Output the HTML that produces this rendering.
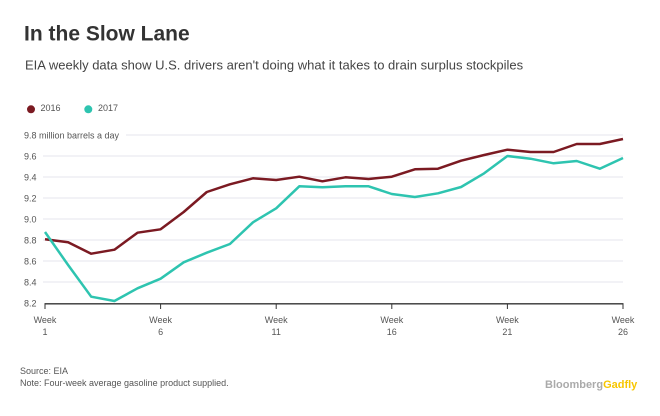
<!DOCTYPE html>
<html>
<head>
<meta charset="utf-8">
<style>
  html, body { margin:0; padding:0; background:#ffffff; }
  body { width:660px; height:416px; overflow:hidden; }
  svg { display:block; font-family:"Liberation Sans", Arial, sans-serif; }
</style>
</head>
<body>
<svg width="660" height="416" viewBox="0 0 660 416" xmlns="http://www.w3.org/2000/svg">
  <rect x="0" y="0" width="660" height="416" fill="#ffffff"/>

  <!-- Title -->
  <text x="24" y="40.5" font-size="21" font-weight="bold" fill="#333333">In the Slow Lane</text>
  <text x="25" y="69.5" font-size="13" fill="#444444">EIA weekly data show U.S. drivers aren't doing what it takes to drain surplus stockpiles</text>

  <!-- Legend -->
  <circle cx="31" cy="109.3" r="4" fill="#7b1a22"/>
  <text x="40.5" y="110.8" font-size="9" fill="#555555">2016</text>
  <circle cx="88.3" cy="109.3" r="4" fill="#2ec4b0"/>
  <text x="98" y="110.8" font-size="9" fill="#555555">2017</text>

  <!-- Gridlines -->
  <g stroke="#e6e6ec" stroke-width="1">
    <line x1="126" y1="135" x2="623" y2="135"/>
    <line x1="43" y1="156" x2="623" y2="156"/>
    <line x1="43" y1="177" x2="623" y2="177"/>
    <line x1="43" y1="198" x2="623" y2="198"/>
    <line x1="43" y1="219" x2="623" y2="219"/>
    <line x1="43" y1="240" x2="623" y2="240"/>
    <line x1="43" y1="261" x2="623" y2="261"/>
    <line x1="43" y1="282" x2="623" y2="282"/>
  </g>

  <!-- Y labels -->
  <g font-size="9" fill="#555555">
    <text x="24" y="138.3">9.8 million barrels a day</text>
    <text x="24" y="159.5">9.6</text>
    <text x="24" y="180.5">9.4</text>
    <text x="24" y="201.5">9.2</text>
    <text x="24" y="222.5">9.0</text>
    <text x="24" y="243.5">8.8</text>
    <text x="24" y="264.5">8.6</text>
    <text x="24" y="285.5">8.4</text>
    <text x="24" y="306.5">8.2</text>
  </g>

  <!-- Series 2016 -->
  <polyline fill="none" stroke="#7b1a22" stroke-width="2.5" stroke-linejoin="round" stroke-linecap="butt"
    points="45,239.3 68.1,242.3 91.2,253.7 114.4,249.7 137.5,232.7 160.6,229.3 183.7,212 206.8,192 229.9,184.3 253,178.3 276.2,180 299.3,176.7 322.4,181.3 345.5,177.3 368.6,179 391.8,176.7 414.9,169.3 438,168.7 461.1,160.7 484.2,155 507.4,149.7 530.5,152 553.6,152 576.7,144 599.8,144 623,139"/>

  <!-- Series 2017 -->
  <polyline fill="none" stroke="#2ec4b0" stroke-width="2.5" stroke-linejoin="round" stroke-linecap="butt"
    points="45,232 68.1,265 91.2,296.7 114.4,301 137.5,288.3 160.6,278.7 183.7,262.3 206.8,252.7 229.9,244 253,222.3 276.2,208.3 299.3,186.3 322.4,187.3 345.5,186.3 368.6,186.3 391.8,194 414.9,197 438,193.3 461.1,187 484.2,173.3 507.4,156 530.5,158.7 553.6,163.3 576.7,161 599.8,168.7 623,158"/>

  <!-- X axis -->
  <line x1="44.5" y1="303.8" x2="623.5" y2="303.8" stroke="#333333" stroke-width="1.3"/>
  <g stroke="#333333" stroke-width="1">
    <line x1="45" y1="303.5" x2="45" y2="309"/>
    <line x1="160.6" y1="303.5" x2="160.6" y2="309"/>
    <line x1="276.2" y1="303.5" x2="276.2" y2="309"/>
    <line x1="391.8" y1="303.5" x2="391.8" y2="309"/>
    <line x1="507.4" y1="303.5" x2="507.4" y2="309"/>
    <line x1="623" y1="303.5" x2="623" y2="309"/>
  </g>
  <g font-size="9" fill="#555555" text-anchor="middle">
    <text x="45" y="323">Week</text>
    <text x="45" y="335">1</text>
    <text x="160.6" y="323">Week</text>
    <text x="160.6" y="335">6</text>
    <text x="276.2" y="323">Week</text>
    <text x="276.2" y="335">11</text>
    <text x="391.8" y="323">Week</text>
    <text x="391.8" y="335">16</text>
    <text x="507.4" y="323">Week</text>
    <text x="507.4" y="335">21</text>
    <text x="623" y="323">Week</text>
    <text x="623" y="335">26</text>
  </g>

  <!-- Footer -->
  <text x="20" y="374" font-size="9" fill="#555555">Source: EIA</text>
  <text x="20" y="386" font-size="9" fill="#555555">Note: Four-week average gasoline product supplied.</text>
  <text x="545" y="388" font-size="11" font-weight="bold" fill="#aaaaaa">Bloomberg<tspan fill="#f7c600">Gadfly</tspan></text>
</svg>
</body>
</html>
